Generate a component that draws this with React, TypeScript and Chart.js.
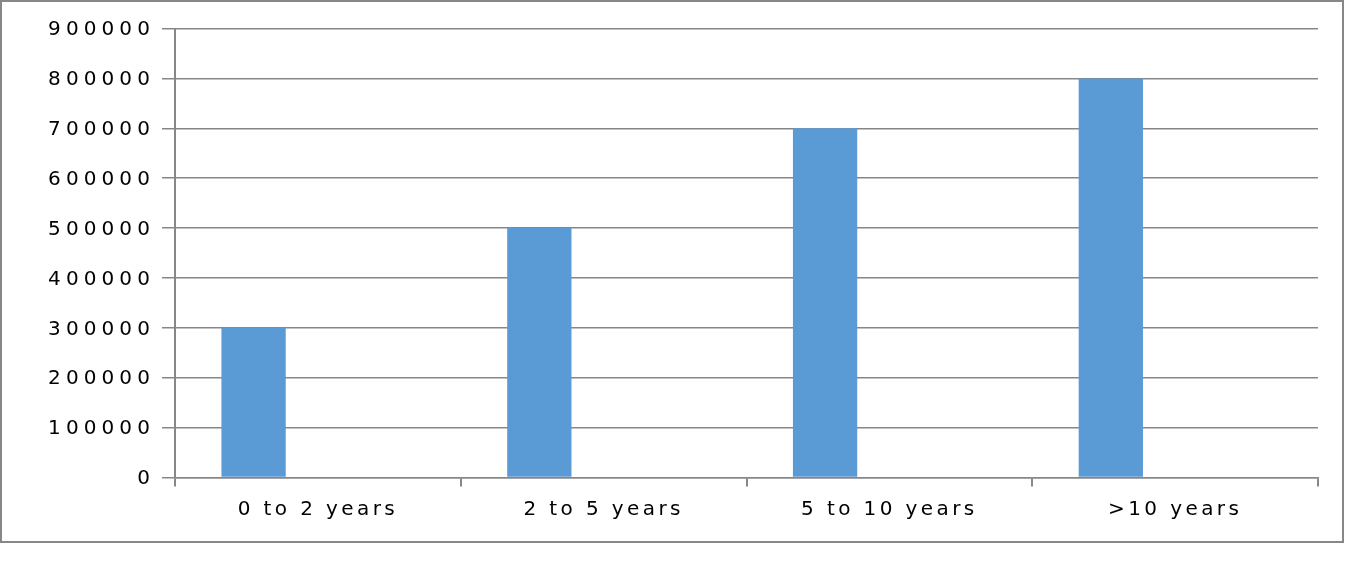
import { useEffect, useRef } from 'react'
import { Chart, registerables } from 'chart.js'

Chart.register(...registerables)

const categories = ['0 to 2 years', '2 to 5 years', '5 to 10 years', '>10 years']
const seriesValues = [300000, 500000, 700000, 800000]
// the source sheet has two more series with no values in them
const emptySeries2 = [null, null, null, null]
const emptySeries3 = [null, null, null, null]
const yMin = 0
const yMax = 900000
const yStep = 100000

const GRID = '#878787'
const FONT = "'DejaVu Sans', Verdana, sans-serif"

// canvas text has no letter spacing option in Chart.js, so patch it per axis
const labelStyle: Record<string, { spacing: string; dy: number }> = {
  x: { spacing: '3.4px', dy: 0 },
  y: { spacing: '5.1px', dy: 1.5 },
}

const spacingPlugin = {
  id: 'axisLetterSpacing',
  beforeDraw(chart: any) {
    for (const id of Object.keys(labelStyle)) {
      const scale = chart.scales[id]
      if (!scale || scale._spacingPatched) continue
      const orig = scale.drawLabels.bind(scale)
      scale.drawLabels = (area: any) => {
        const ctx = scale.ctx
        const prev = ctx.letterSpacing
        ctx.save()
        ctx.translate(0, labelStyle[id].dy)
        ctx.letterSpacing = labelStyle[id].spacing
        orig(area)
        ctx.restore()
        ctx.letterSpacing = prev
      }
      scale._spacingPatched = true
    }
  },
}

export default function App() {
  const canvasRef = useRef<HTMLCanvasElement>(null)
  const chartRef = useRef<Chart | null>(null)

  useEffect(() => {
    if (!canvasRef.current) return
    chartRef.current?.destroy()

    chartRef.current = new Chart(canvasRef.current, {
      type: 'bar',
      data: {
        labels: categories,
        datasets: [
          { data: seriesValues, backgroundColor: '#5b9bd5', barPercentage: 1, categoryPercentage: 0.675 },
          { data: emptySeries2, backgroundColor: '#ed7d31', barPercentage: 1, categoryPercentage: 0.675 },
          { data: emptySeries3, backgroundColor: '#a5a5a5', barPercentage: 1, categoryPercentage: 0.675 },
        ],
      },
      plugins: [spacingPlugin],
      options: {
        responsive: false,
        animation: false,
        layout: { padding: { top: 26.5, right: 24, left: 0, bottom: 0 } },
        plugins: {
          legend: { display: false },
          tooltip: { enabled: false },
        },
        scales: {
          x: {
            grid: { drawOnChartArea: false, drawTicks: true, tickLength: 9, color: GRID, lineWidth: 2 },
            border: { display: true, color: GRID, width: 1.5 },
            ticks: { color: '#000', padding: 11, font: { size: 20, family: FONT } },
            afterFit: (s: any) => { s.height = 63.5 },
          },
          y: {
            min: yMin,
            max: yMax,
            grid: { color: GRID, lineWidth: 1.5, tickLength: 13 },
            border: { display: true, color: GRID, width: 2 },
            ticks: {
              stepSize: yStep,
              color: '#000',
              padding: 7,
              font: { size: 20, family: FONT },
              callback: (v: any) => String(v),
            },
            afterFit: (s: any) => { s.width = 173 },
          },
        },
      },
    })

    return () => { chartRef.current?.destroy() }
  }, [])

  return (
    <div style={{
      position: 'absolute', left: 0, top: 0, width: 1344, height: 543,
      border: `2px solid ${GRID}`, boxSizing: 'border-box', background: '#fff',
    }}>
      <canvas ref={canvasRef} width={1340} height={539} style={{ display: 'block' }} />
    </div>
  )
}
